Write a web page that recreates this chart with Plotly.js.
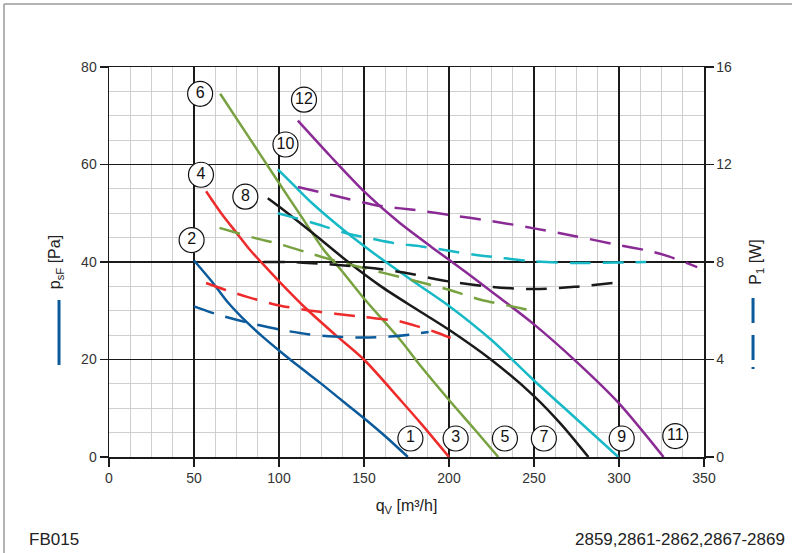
<!DOCTYPE html>
<html>
<head>
<meta charset="utf-8">
<script src="https://cdn.plot.ly/plotly-3.0.1.min.js"></script>
<style>html,body{margin:0;padding:0;background:#fff;}#chart{width:792px;height:553px;}</style>
</head>
<body>
<div id="chart"></div>
<script>
// ---- data (q in m³/h, p in Pa, P in W) ----
const q1 = [50, 61.4, 70, 81.2, 90, 100.9, 112, 124.6, 137, 150.2, 163, 175.8];
const p1 = [40.3, 35.6, 31.7, 27.6, 24.8, 21.6, 18.5, 15.1, 11.6, 7.9, 4.1, 0];
const q2 = [50, 65, 81.2, 100.9, 117, 132.4, 150.2, 165, 177, 188];
const P2 = [6.18, 5.82, 5.52, 5.22, 5.04, 4.94, 4.9, 4.94, 5.02, 5.13];
const q3 = [57.1, 66, 75.2, 83.1, 94, 99.9, 116.7, 133, 150.2, 171.4, 183.7, 200];
const p3 = [54.5, 50.0, 45.9, 42.4, 38.3, 36.1, 30.2, 25.1, 19.9, 11.7, 6.8, 0];
const q4 = [57.1, 70, 81.2, 98, 116.7, 133, 150.2, 171.4, 183.7, 191.1, 204];
const P4 = [7.14, 6.82, 6.57, 6.25, 6.02, 5.88, 5.74, 5.56, 5.31, 5.15, 4.8];
const q5 = [65.4, 80, 100, 113, 126.5, 136.4, 150, 171.4, 183.7, 200, 215, 229];
const p5 = [74.5, 66.8, 56.2, 49.4, 42.4, 38.4, 32.5, 24.0, 18.5, 11.7, 5.7, 0];
const q6 = [65, 86, 99, 116, 132.4, 150, 171.4, 200, 218.7, 235, 249.3];
const P6 = [9.4, 8.98, 8.76, 8.4, 8.06, 7.75, 7.38, 6.86, 6.45, 6.21, 6.0];
const q7 = [93.4, 100, 120, 140, 160, 180, 200, 225, 250, 266, 282];
const p7 = [53.1, 51.4, 45.9, 40.2, 35.0, 30.5, 26.1, 19.9, 12.5, 6.7, 0];
const q8 = [91, 105, 122.6, 140, 155.9, 177.3, 193.3, 200, 224.7, 250, 274, 297];
const P8 = [8.0, 8.0, 7.94, 7.85, 7.74, 7.52, 7.28, 7.2, 6.98, 6.89, 6.98, 7.14];
const q9 = [99.3, 110, 120, 140, 160, 180, 200, 225, 250, 275, 299.6];
const p9 = [59.0, 55.3, 51.9, 46.0, 40.7, 35.8, 31.0, 24.0, 15.7, 7.8, 0];
const q10 = [99.3, 110, 120.6, 140.3, 155, 168, 183.7, 200, 215, 230.6, 250, 274, 300, 316];
const P10 = [10.0, 9.8, 9.59, 9.17, 8.95, 8.77, 8.64, 8.46, 8.3, 8.17, 8.03, 7.96, 7.98, 8.0];
const q11 = [111.1, 130, 150, 170, 190, 210, 230, 250, 276, 300, 326.2];
const p11 = [69.0, 61.8, 54.5, 48.3, 43.0, 37.9, 32.6, 27.2, 19.2, 11.0, 0];
const q12 = [111.1, 130.5, 156.1, 171.4, 183.7, 200, 225, 250, 275, 300, 318, 329.2, 346];
const P12 = [11.08, 10.76, 10.34, 10.2, 10.1, 9.93, 9.68, 9.38, 9.05, 8.69, 8.45, 8.23, 7.79];

const labelText = ["1","2","3","4","5","6","7","8","9","10","11","12"];
const labelX = [177.3, 48.6, 203.9, 54.1, 232.9, 53.6, 255.8, 80.2, 301.6, 103.8, 333.1, 114.7];
const labelY = [3.8, 44.5, 3.8, 57.9, 3.8, 74.5, 3.8, 53.4, 3.8, 64.1, 4.3, 73.3];

const xTitle = "q<sub>V</sub> [m³/h]";
const yTitle = "p<sub>sF</sub> [Pa]";
const y2Title = "P<sub>1</sub> [W]";
const leftNote = "FB015";
const rightNote = "2859,2861-2862,2867-2869";

// ---- styles ----
const C = {blue:"#0b5a9b", red:"#ee2b2b", green:"#77a23f", black:"#1a1a1a", cyan:"#17b9c6", purple:"#8a2a94"};
const DASH = "21px,12px";
const FONT = "Liberation Sans, Arial, sans-serif";

function solid(x, y, color){
  return {x:x, y:y, type:"scatter", mode:"lines", yaxis:"y", hoverinfo:"skip",
    line:{color:color, width:2.5, shape:"spline", smoothing:0.8}};
}
function dashed(x, y, color){
  return {x:x, y:y, type:"scatter", mode:"lines", yaxis:"y2", hoverinfo:"skip",
    line:{color:color, width:2.5, dash:DASH, shape:"spline", smoothing:0.8}};
}

const traces = [
  solid(q1, p1, C.blue), dashed(q2, P2, C.blue),
  solid(q3, p3, C.red), dashed(q4, P4, C.red),
  solid(q5, p5, C.green), dashed(q6, P6, C.green),
  solid(q7, p7, C.black), dashed(q8, P8, C.black),
  solid(q9, p9, C.cyan), dashed(q10, P10, C.cyan),
  solid(q11, p11, C.purple), dashed(q12, P12, C.purple),
  {x:labelX, y:labelY, text:labelText, type:"scatter", mode:"markers+text", yaxis:"y",
   hoverinfo:"skip", textposition:"middle center",
   textfont:{family:FONT, size:16, color:"#111"},
   marker:{symbol:"circle", size:25, color:"#ffffff", line:{color:"#111", width:1.2}}}
];

const axisCommon = {
  ticks:"outside", ticklen:8, tickwidth:1.5, tickcolor:"#1a1a1a",
  showline:true, linecolor:"#1a1a1a", linewidth:1.5,
  zeroline:false, tickfont:{family:FONT, size:14, color:"#333"}
};

const layout = {
  width:792, height:553,
  margin:{l:109, r:88, t:67, b:96},
  paper_bgcolor:"#ffffff", plot_bgcolor:"#ffffff",
  showlegend:false,
  font:{family:FONT, color:"#222"},
  xaxis: Object.assign({}, axisCommon, {
    range:[0,350], tick0:0, dtick:50, mirror:true,
    showgrid:true, gridcolor:"#1a1a1a", gridwidth:1.5,
    minor:{dtick:12.5, showgrid:true, gridcolor:"#cfcfcf", gridwidth:1},
    title:{text:xTitle, font:{family:FONT, size:16, color:"#222"}, standoff:14}
  }),
  yaxis: Object.assign({}, axisCommon, {
    range:[0,80], tick0:0, dtick:20, mirror:true,
    showgrid:true, gridcolor:"#1a1a1a", gridwidth:1.5,
    minor:{dtick:5, showgrid:true, gridcolor:"#cfcfcf", gridwidth:1},
    title:{text:yTitle, font:{family:FONT, size:16, color:"#222"}, standoff:16}
  }),
  yaxis2: Object.assign({}, axisCommon, {
    range:[0,16], tick0:0, dtick:4, overlaying:"y", side:"right",
    showgrid:false,
    title:{text:y2Title, font:{family:FONT, size:16, color:"#222"}, standoff:18}
  }),
  shapes:[
    {type:"line", xref:"paper", yref:"paper", x0:-0.084, x1:-0.084, y0:0.236, y1:0.4026,
     line:{color:C.blue, width:3}},
    {type:"line", xref:"paper", yref:"paper", x0:1.0824, x1:1.0824, y0:0.408, y1:0.225,
     line:{color:C.blue, width:3, dash:"25px,12px,25px,7px,2px,40px"}},
    {type:"line", xref:"paper", yref:"paper", x0:-0.1765, x1:-0.1765, y0:1.1615, y1:-0.2513,
     line:{color:"#9a9a9a", width:1.5}},
    {type:"line", xref:"paper", yref:"paper", x0:-0.1765, x1:1.15, y0:1.1615, y1:1.1615,
     line:{color:"#9a9a9a", width:1.5}}
  ],
  annotations:[
    {text:leftNote, xref:"paper", yref:"paper", x:-0.138, y:-0.2128, xanchor:"left", yanchor:"middle",
     showarrow:false, font:{family:FONT, size:17, color:"#222"}},
    {text:rightNote, xref:"paper", yref:"paper", x:1.1395, y:-0.2128, xanchor:"right", yanchor:"middle",
     showarrow:false, font:{family:FONT, size:17, color:"#222"}}
  ]
};

Plotly.newPlot("chart", traces, layout, {staticPlot:true, displayModeBar:false});
</script>
</body>
</html>
